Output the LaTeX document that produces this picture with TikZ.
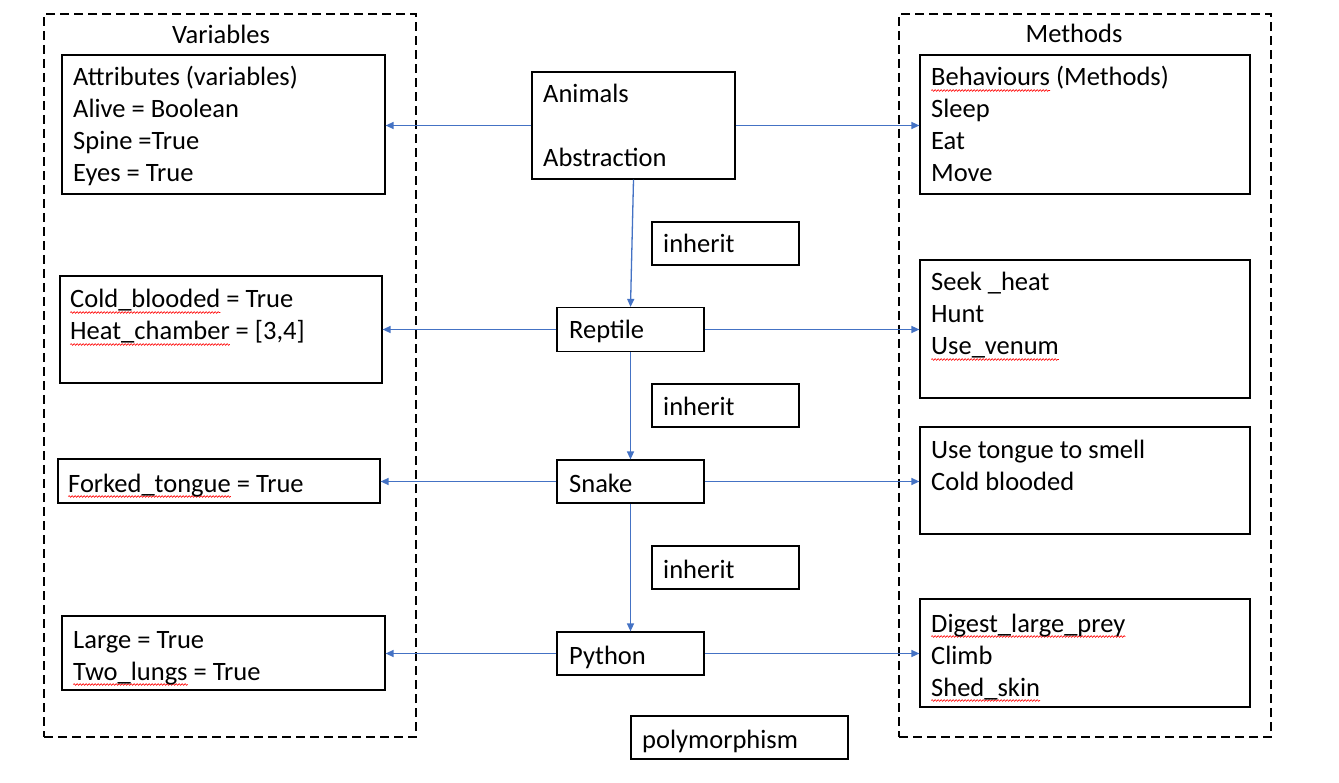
\documentclass[tikz,border=0pt]{standalone}
\usepackage{fontspec}
\setmainfont{Carlito}
\usepackage{xcolor}
\usetikzlibrary{arrows.meta,decorations.pathmorphing}
\definecolor{arrblue}{HTML}{4472C4}
\newsavebox\rwbox
\newlength\rwlen
\newcommand\rw[1]{\sbox\rwbox{#1}\setlength\rwlen{\wd\rwbox}%
  \rlap{\tikz[overlay,baseline=0pt,x=1pt,y=1pt]\draw[red,line width=0.6pt,decorate,decoration={snake,amplitude=0.9pt,segment length=3pt}] (0,-4.5) -- (\rwlen,-4.5);}\usebox\rwbox}
\newcommand\stk[1]{\vtop{\baselineskip=32pt\lineskiplimit=-100pt #1}}
\newcommand\lne[1]{\hbox{\strut #1}}
\begin{document}
\begin{tikzpicture}[x=1pt,y=-1pt,
  box/.style={draw=black,line width=1.2pt,rectangle,inner sep=0pt},
  grp/.style={draw=black,line width=1.8pt,dash pattern=on 9pt off 5pt,rectangle,inner sep=0pt},
  txt/.style={inner sep=0pt,anchor=base west,font=\fontsize{26.5}{32}\selectfont},
  ttl/.style={inner sep=0pt,anchor=base,font=\fontsize{26.5}{32}\selectfont},
  arr/.style={draw=arrblue,line width=1.3pt,-{Triangle[length=8pt,width=7pt]}}]
\useasboundingbox (0,0) rectangle (1339,783);
\fill[white] (0,0) rectangle (1339,783);
% groups
\node[grp,minimum width=372pt,minimum height=723pt] (vars) at (230,375.5) {};
\node[grp,minimum width=372pt,minimum height=723pt] (meths) at (1085,375.5) {};
\node[ttl] (varsT) at (221,43.5) {Variables};
\node[ttl] (methT) at (1074,42.5) {Methods};
% boxes
\node[box,minimum width=323pt,minimum height=139pt] (attr) at (223.5,124.5) {};
\node[box,minimum width=203pt,minimum height=107pt] (anim) at (633.5,125.5) {};
\node[box,minimum width=330pt,minimum height=139pt] (beh) at (1085,124.5) {};
\node[box,minimum width=147pt,minimum height=43pt] (inh1) at (725.5,243.5) {};
\node[box,minimum width=322pt,minimum height=107pt] (cold) at (221,329.5) {};
\node[box,minimum width=147pt,minimum height=44pt] (rep) at (630.5,329.5) {};
\node[box,minimum width=330pt,minimum height=138pt] (seek) at (1085,329) {};
\node[box,minimum width=147pt,minimum height=43pt] (inh2) at (725.5,405.5) {};
\node[box,minimum width=322pt,minimum height=44pt] (fork) at (219,481) {};
\node[box,minimum width=147pt,minimum height=43pt] (snake) at (630.5,481.5) {};
\node[box,minimum width=330pt,minimum height=107pt] (tong) at (1085,480.5) {};
\node[box,minimum width=147pt,minimum height=43pt] (inh3) at (725.5,567.5) {};
\node[box,minimum width=323pt,minimum height=74pt] (large) at (223.5,653) {};
\node[box,minimum width=147pt,minimum height=43pt] (py) at (630.5,653.5) {};
\node[box,minimum width=330pt,minimum height=108pt] (dig) at (1085,653) {};
\node[box,minimum width=217pt,minimum height=43pt] (poly) at (739.5,737.5) {};
% texts
\node[txt] (attrT) at (73,86) {\stk{\lne{Attributes (variables)}\lne{Alive = Boolean}\lne{Spine =True}\lne{Eyes = True}}};
\node[txt] (animT) at (543,103) {\stk{\lne{Animals}\lne{}\lne{Abstraction}}};
\node[txt] (behT) at (931,86) {\stk{\lne{\rw{Behaviours} (Methods)}\lne{Sleep}\lne{Eat}\lne{Move}}};
\node[txt] (inh1T) at (663,253) {inherit};
\node[txt] (coldT) at (70,308) {\stk{\lne{\rw{Cold\_blooded} = True}\lne{\rw{Heat\_chamber} = [3,4]}}};
\node[txt] (repT) at (569,339) {Reptile};
\node[txt] (seekT) at (931,291) {\stk{\lne{Seek \_heat}\lne{Hunt}\lne{\rw{Use\_venum}}}};
\node[txt] (inh2T) at (663,416) {inherit};
\node[txt] (forkT) at (68,492) {\rw{Forked\_tongue} = True};
\node[txt] (snakeT) at (569,492) {Snake};
\node[txt] (tongT) at (931,459) {\stk{\lne{Use tongue to smell}\lne{Cold blooded}}};
\node[txt] (inh3T) at (663,578) {inherit};
\node[txt] (largeT) at (73,648) {\stk{\lne{Large = True}\lne{\rw{Two\_lungs} = True}}};
\node[txt] (pyT) at (569,664) {Python};
\node[txt] (digT) at (931,632) {\stk{\lne{\rw{Digest\_large\_prey}}\lne{Climb}\lne{\rw{Shed\_skin}}}};
\node[txt] (polyT) at (642,748) {polymorphism};
% arrows
\draw[arr] (anim.west) -- (attr.east |- anim.west);
\draw[arr] (anim.east) -- (beh.west |- anim.east);
\draw[arr] (anim.south) -- (rep.north);
\draw[arr] (rep.west) -- (cold.east |- rep.west);
\draw[arr] (rep.east) -- (seek.west |- rep.east);
\draw[arr] (rep.south) -- (snake.north);
\draw[arr] (snake.west) -- (fork.east |- snake.west);
\draw[arr] (snake.east) -- (tong.west |- snake.east);
\draw[arr] (snake.south) -- (py.north);
\draw[arr] (py.west) -- (large.east |- py.west);
\draw[arr] (py.east) -- (dig.west |- py.east);
\end{tikzpicture}
\end{document}
